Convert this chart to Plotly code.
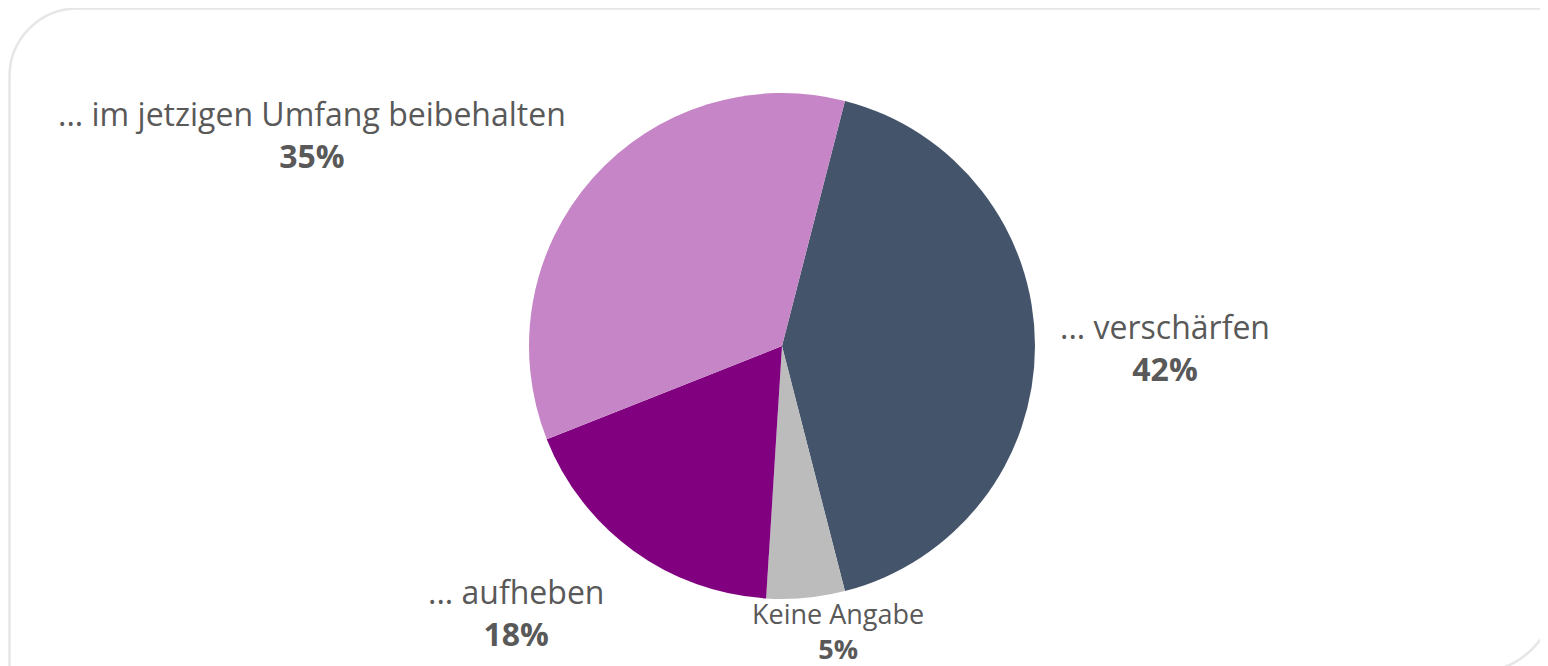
import plotly.graph_objects as go

labels = ["... verschärfen", "Keine Angabe", "... aufheben", "... im jetzigen Umfang beibehalten"]
values = [42, 5, 18, 35]
colors = ["#44546a", "#bcbcbc", "#800080", "#c685c6"]

W, H = 1548, 666
OFF = 8  # page body margin

# pie placement (page pixels)
cx, cy, r = 782 - OFF, 346 - OFF, 253

# label layout (page pixels, centre of each label block) and font sizes
label_pos = [(1165, 347), (838, 631), (516, 612), (312, 134)]
label_sizes = [32, 27, 32, 32]

fig = go.Figure(go.Pie(
    labels=labels,
    values=values,
    sort=False,
    direction="clockwise",
    rotation=14.4,
    marker=dict(colors=colors, line=dict(width=0)),
    textinfo="none",
    showlegend=False,
    hoverinfo="label+percent",
    domain=dict(x=[(cx - r) / W, (cx + r) / W], y=[1 - (cy + r) / H, 1 - (cy - r) / H]),
))


def px(x):
    return x / W


def py(y):
    return 1 - y / H


annotations = []
for lab, val, (lx, ly), fs in zip(labels, values, label_pos, label_sizes):
    annotations.append(dict(
        x=px(lx - OFF), y=py(ly - OFF), xref="paper", yref="paper",
        text=f"{lab}<br><b>{val}%</b>", showarrow=False,
        xanchor="center", yanchor="middle", align="center",
        font=dict(family="Open Sans", color="#595959", size=fs),
    ))

# card border: rounded top-left and bottom-right corners
x0, y0, x1, y1 = 1.5, 0.5, 1548, 664
r_tl, r_br = 68, 80
k = 0.5523
path = (
    f"M {px(x0 + r_tl)},{py(y0)} L {px(x1)},{py(y0)} "
    f"L {px(x1)},{py(y1 - r_br)} "
    f"C {px(x1)},{py(y1 - r_br + k * r_br)} {px(x1 - r_br + k * r_br)},{py(y1)} {px(x1 - r_br)},{py(y1)} "
    f"L {px(x0)},{py(y1)} "
    f"L {px(x0)},{py(y0 + r_tl)} "
    f"C {px(x0)},{py(y0 + r_tl - k * r_tl)} {px(x0 + r_tl - k * r_tl)},{py(y0)} {px(x0 + r_tl)},{py(y0)} Z"
)

fig.update_layout(
    width=W,
    height=H,
    margin=dict(l=0, r=0, t=0, b=0),
    paper_bgcolor="white",
    plot_bgcolor="white",
    font=dict(family="Open Sans", color="#595959"),
    annotations=annotations,
    shapes=[dict(type="path", xref="paper", yref="paper", path=path,
                 line=dict(color="#e6e6e6", width=2.5), layer="below")],
)

fig.write_html("out.html")
